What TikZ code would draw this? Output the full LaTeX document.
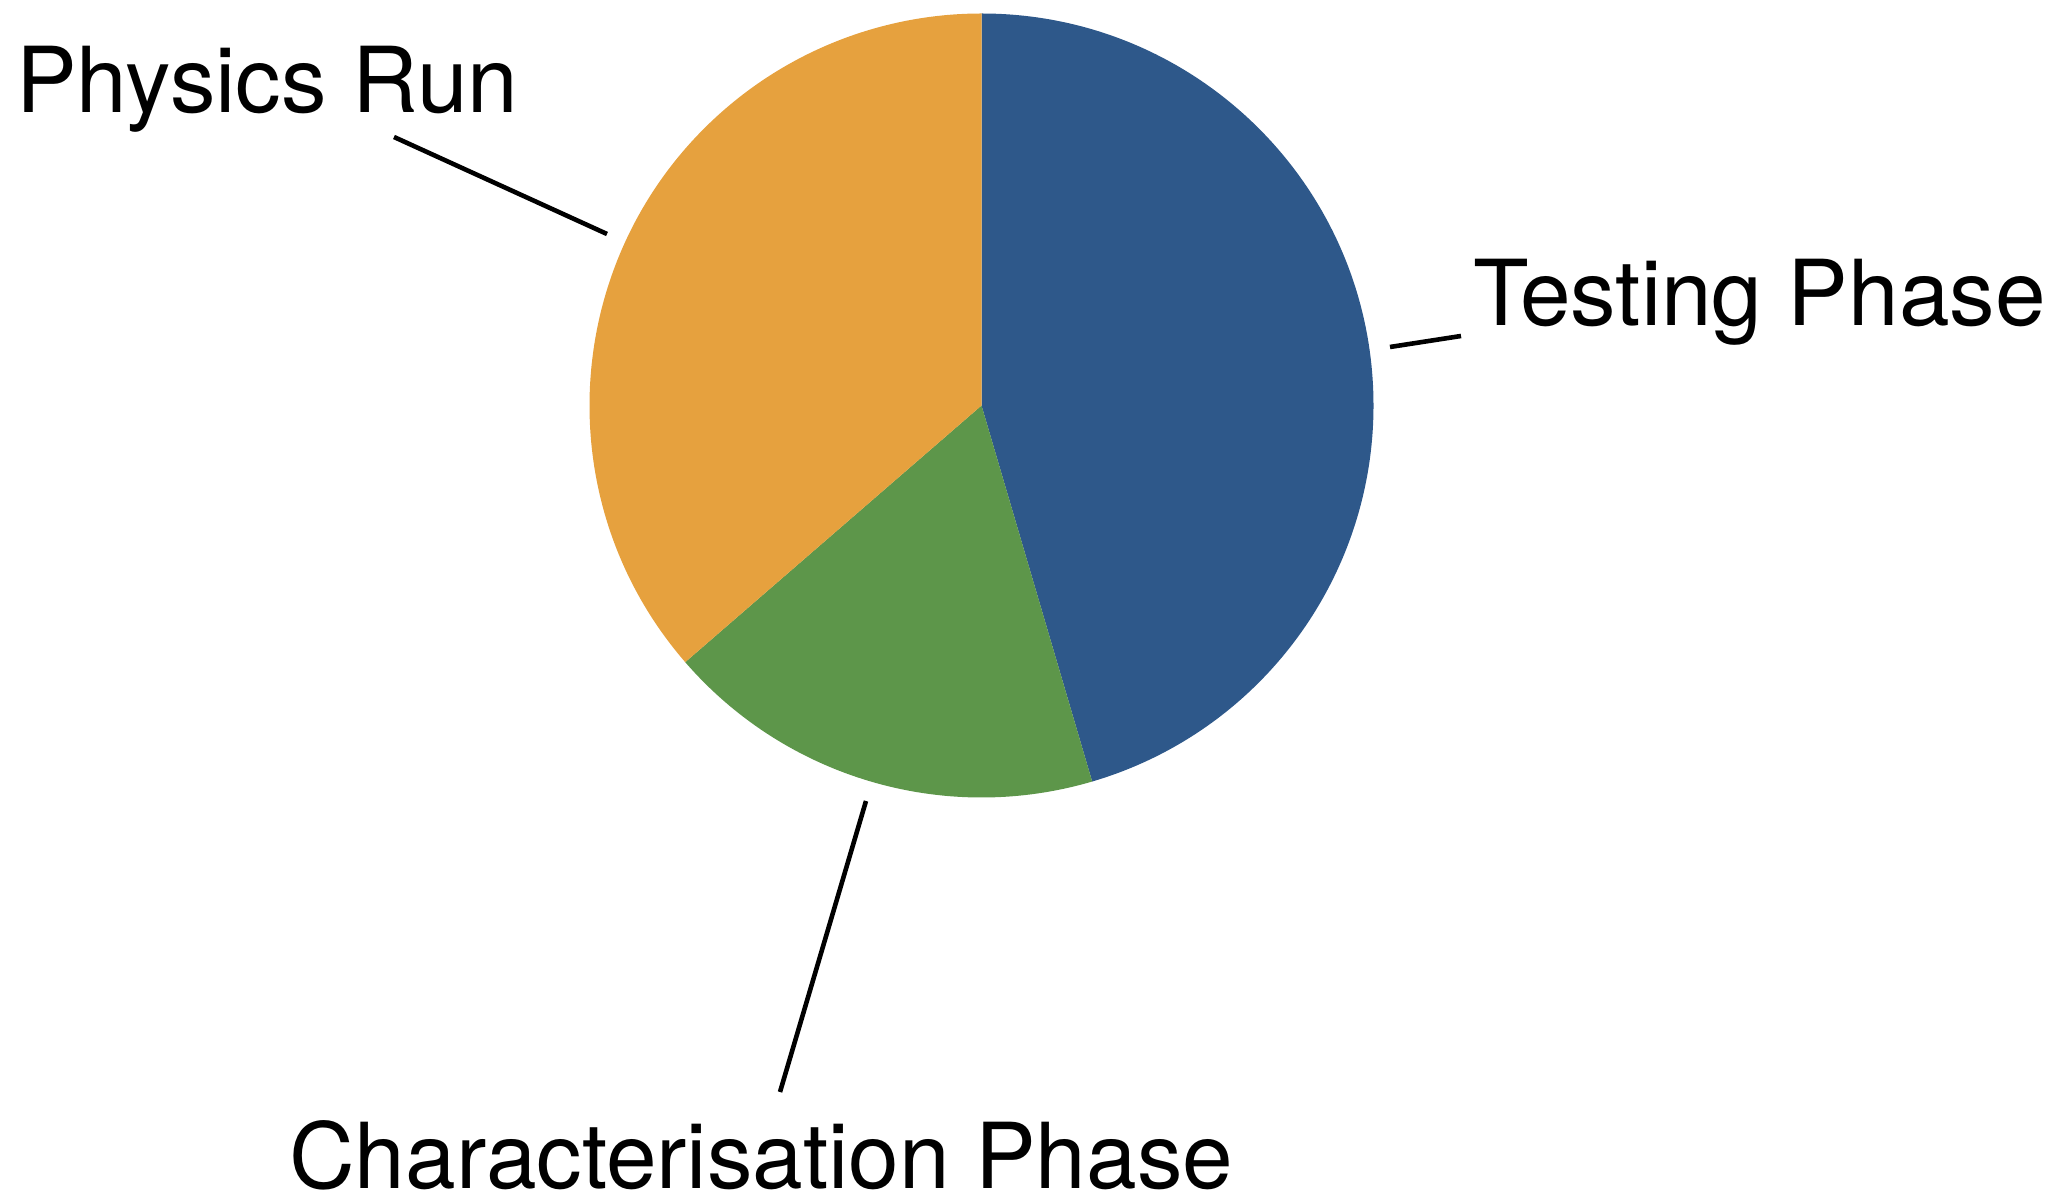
\documentclass[tikz,border=0pt]{standalone}
\usepackage{fontspec}
\setmainfont{TeX Gyre Heros}
\definecolor{testblue}{RGB}{46,88,138}
\definecolor{chargreen}{RGB}{93,150,74}
\definecolor{physorange}{RGB}{230,161,62}
\begin{document}
\begin{tikzpicture}[x=1pt,y=1pt,
  slice/.style={draw=none},
  leader/.style={draw=black,line width=4.6pt},
  pielabel/.style={inner sep=0pt,anchor=base west,font=\fontsize{91}{100}\selectfont}]
\useasboundingbox (0,0) rectangle (2064,1195);
\coordinate (c) at (981.5,789.5);
% pie slices
\fill[testblue,slice] (c) -- ++(90:392) arc[start angle=90,end angle=-73.6,radius=392] -- cycle;
\fill[chargreen,slice] (c) -- ++(-73.6:392) arc[start angle=-73.6,end angle=-139.1,radius=392] -- cycle;
\fill[physorange,slice] (c) -- ++(-139.1:392) arc[start angle=-139.1,end angle=-270,radius=392] -- cycle;
% labels
\node[pielabel] (pr) at (16,1082.3) {Physics Run};
\node[pielabel] (tp) at (1473,869.3) {Testing Phase};
\node[pielabel] (cp) at (289,6.5) {Characterisation Phase};
% leader lines
\coordinate (pr1) at (394,1058);
\coordinate (pr2) at (607,961);
\coordinate (tp1) at (1390,848);
\coordinate (tp2) at (1461,859);
\coordinate (cp1) at (866,394);
\coordinate (cp2) at (780,103);
\draw[leader] (pr1) -- (pr2);
\draw[leader] (tp1) -- (tp2);
\draw[leader] (cp1) -- (cp2);
\end{tikzpicture}
\end{document}
